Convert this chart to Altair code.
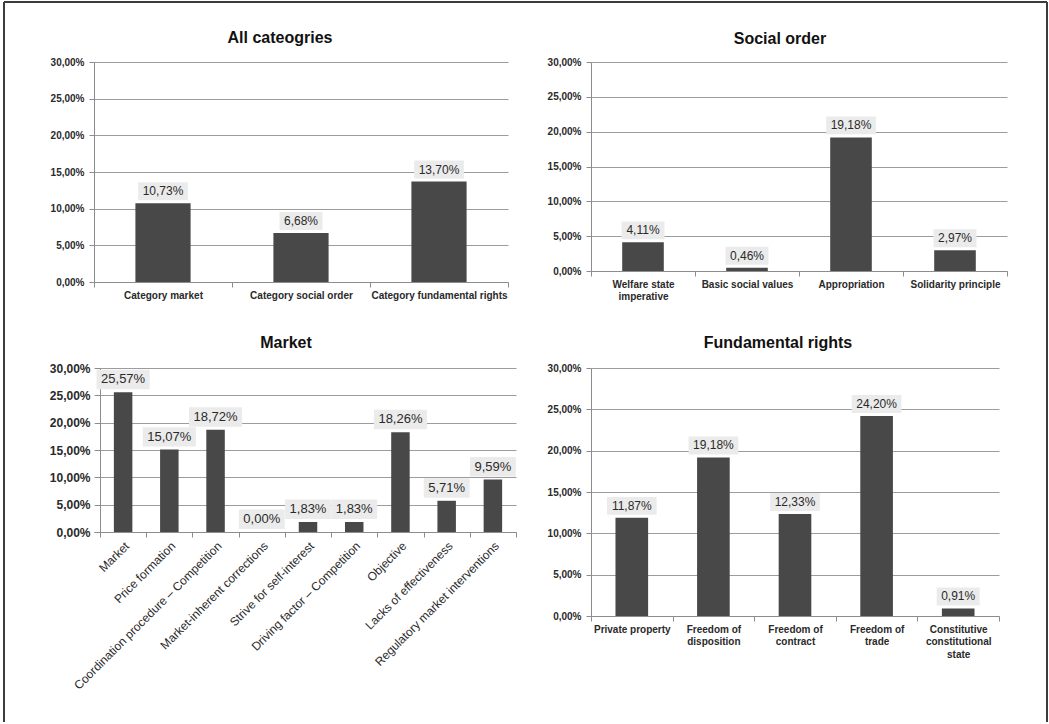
import altair as alt
import pandas as pd

FONT = "Liberation Sans"

# ---- data -------------------------------------------------------------
all_cats = ["Category market", "Category social order", "Category fundamental rights"]
all_vals = [10.73, 6.68, 13.70]

social_cats = ["Welfare state\nimperative", "Basic social values", "Appropriation",
               "Solidarity principle"]
social_vals = [4.11, 0.46, 19.18, 2.97]

market_cats = ["Market", "Price formation", "Coordination procedure \u2013 Competition",
               "Market-inherent corrections", "Strive for self-interest",
               "Driving factor  \u2013 Competition", "Objective", "Lacks of effectiveness",
               "Regulatory market interventions"]
market_vals = [25.57, 15.07, 18.72, 0.00, 1.83, 1.83, 18.26, 5.71, 9.59]

rights_cats = ["Private property", "Freedom of\ndisposition", "Freedom of\ncontract",
               "Freedom of\ntrade", "Constitutive\nconstitutional\nstate"]
rights_vals = [11.87, 19.18, 12.33, 24.20, 0.91]

y_ticks = [0, 5, 10, 15, 20, 25, 30]
titles = ["All cateogries", "Social order", "Market", "Fundamental rights"]

PCT = "replace(format({v}, '.2f'), '.', ',') + '%'"


def panel(cats, vals, title, w, h, title_x, title_y,
          ylab_size=10, xlab_size=10, xlab_weight="bold", xlab_angle=0,
          val_size=12, left_shift=0, extra=()):
    df = pd.DataFrame({"cat": cats, "val": vals})
    base = alt.Chart(df).transform_calculate(label=PCT.format(v="datum.val"))

    n = len(cats)
    if left_shift:
        step = (w - left_shift) / n
        xs = alt.Scale(paddingInner=0, paddingOuter=left_shift / 2 / step, align=1)
    else:
        xs = alt.Scale(paddingInner=0, paddingOuter=0)

    xaxis_kw = dict(
        title=None, grid=False, domain=True, domainColor="#8c8c8c", domainWidth=1,
        ticks=True, tickBand="extent", tickSize=5, tickColor="#8c8c8c",
        labelFont=FONT, labelFontSize=xlab_size, labelFontWeight=xlab_weight,
        labelColor="#2a2a2a", labelLimit=400, labelOverlap=False, labelPadding=3,
        labelAngle=xlab_angle,
        labelExpr="split(datum.label, '\\n')",
    )
    if xlab_angle == 0:
        xaxis_kw.update(labelAlign="center", labelBaseline="top", labelLineHeight=12.5)
    else:
        xaxis_kw.update(labelAlign="right", labelBaseline="top")
    x = alt.X("cat:N", sort=None, scale=xs, axis=alt.Axis(**xaxis_kw))

    yaxis_kw = dict(
        title=None, values=y_ticks, grid=True, gridColor="#9c9c9c", gridWidth=1,
        domain=True, domainColor="#8c8c8c", ticks=True, tickSize=5, tickColor="#8c8c8c",
        labelFont=FONT, labelFontSize=ylab_size, labelFontWeight="bold",
        labelColor="#2a2a2a", labelPadding=5,
        labelExpr=PCT.format(v="datum.value"),
    )
    if left_shift:
        yaxis_kw["offset"] = -left_shift
    y = alt.Y("val:Q", scale=alt.Scale(domain=[0, 30], nice=False, zero=True),
              axis=alt.Axis(**yaxis_kw))

    bars = base.mark_bar(width=alt.RelativeBandSize(0.4), color="#484848").encode(x=x, y=y)

    # label background boxes (custom rectangular symbol)
    w6 = 3.39 * val_size + 9
    w5 = 2.835 * val_size + 9
    hh = (val_size * 1.5 / 2) / (w6 / 2)
    hw5 = w5 / w6
    path6 = f"M-1,-{hh:.3f}L1,-{hh:.3f}L1,{hh:.3f}L-1,{hh:.3f}Z"
    path5 = f"M-{hw5:.3f},-{hh:.3f}L{hw5:.3f},-{hh:.3f}L{hw5:.3f},{hh:.3f}L-{hw5:.3f},{hh:.3f}Z"
    off = -(val_size * 0.75 + 3)
    boxes = base.mark_point(filled=True, opacity=1, color="#ebebeb", strokeWidth=0,
                            size=w6 * w6, yOffset=off).encode(
        x=x, y=y,
        shape=alt.condition("length(datum.label) > 5", alt.value(path6), alt.value(path5)),
    )
    texts = base.mark_text(font=FONT, fontSize=val_size, color="#2a2a2a",
                           baseline="middle", align="center", yOffset=off).encode(
        x=x, y=y, text="label:N")

    one = alt.Data(values=[{}])
    ttl = alt.Chart(one).mark_text(font=FONT, fontSize=16, fontWeight="bold",
                                   color="#111111", align="center",
                                   baseline="alphabetic").encode(
        x=alt.value(title_x), y=alt.value(title_y), text=alt.value(title))

    return alt.layer(bars, boxes, texts, ttl, *extra).properties(width=w, height=h)


one = alt.Data(values=[{}])
frame_color = "#3c3c3c"
frame = [
    alt.Chart(one).mark_rule(color=frame_color, strokeWidth=2).encode(
        x=alt.value(-90), x2=alt.value(953), y=alt.value(-60)),
    alt.Chart(one).mark_rule(color=frame_color, strokeWidth=2).encode(
        x=alt.value(-90), y=alt.value(-60), y2=alt.value(660)),
    alt.Chart(one).mark_rule(color=frame_color, strokeWidth=2).encode(
        x=alt.value(953), y=alt.value(-60), y2=alt.value(660)),
]

p1 = panel(all_cats, all_vals, titles[0], 414, 220, 186, -19, extra=frame)
p2 = panel(social_cats, social_vals, titles[1], 416, 209, 189, -18)
p3 = panel(market_cats, market_vals, titles[2], 422, 164, 192, -20,
           ylab_size=12, xlab_size=12, xlab_weight="normal", xlab_angle=-45,
           val_size=13, left_shift=6)
p4 = panel(rights_cats, rights_vals, titles[3], 408, 248, 187, -20)

chart = alt.concat(
    p1, p2, p3, p4, columns=2,
    spacing={"row": 86, "column": 75},
    bounds="flush",
    align={"row": "each", "column": "none"},
).properties(
    padding={"left": 3, "top": 1, "right": 0, "bottom": 0},
    background="white",
).configure_view(stroke=None)

chart.save("out.html", embed_options={"renderer": "svg", "actions": False})
